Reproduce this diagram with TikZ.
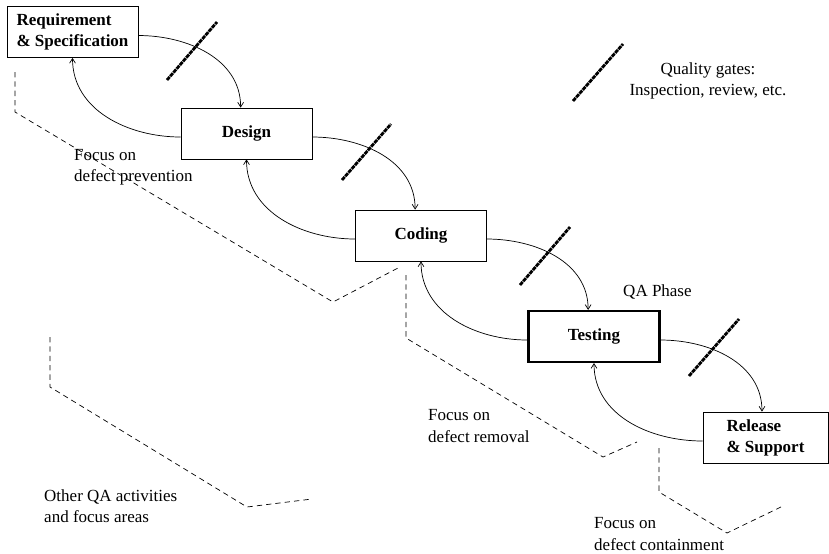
\documentclass[tikz,border=0pt]{standalone}
\usepackage{fontspec}
\setmainfont{Liberation Serif}
\usetikzlibrary{arrows.meta, positioning}

\tikzset{
  phase/.style={draw, line width=0.6pt, minimum width=3.93cm, minimum height=1.53cm, align=left, font=\fontsize{14.5}{18}\selectfont\bfseries},
  note/.style={inner sep=0pt, align=left, font=\fontsize{14.5}{18}\selectfont},
  flow/.style={-{Straight Barb[length=4pt, width=5pt]}, line width=0.6pt},
  gate/.style={line width=2.4pt, dash pattern=on 3.5pt off 0.7pt},
  area/.style={line width=0.6pt, dash pattern=on 4.5pt off 3.5pt},
}

\begin{document}
\begin{tikzpicture}[x=0.03cm, y=-0.03cm]

            \useasboundingbox (0,0) rectangle (829,554);

            % Phases
            \node[phase] (req) at (72.5,32) {Requirement\\\& Specification};
            \node[phase] (design) at (246.5,133.5) {Design};
            \node[phase] (coding) at (421,235.5) {Coding};
            \node[phase, line width=1.8pt] (testing) at (594,336.5) {Testing};
            \node[phase, minimum width=3.75cm] (release) at (765.5,437.5) {Release\\\& Support};

            % Forward arrows
            \draw[flow] ([yshift=-3pt]req.east) to[out=0, in=90] ([xshift=-5pt]design.north);
            \draw[flow] ([yshift=-3pt]design.east) to[out=0, in=90] ([xshift=-5pt]coding.north);
            \draw[flow] ([yshift=-3pt]coding.east) to[out=0, in=90] ([xshift=-5pt]testing.north);
            \draw[flow] ([yshift=-3pt]testing.east) to[out=0, in=90] ([xshift=-3pt]release.north);

            % Backward arrows
            \draw[flow] ([yshift=-3pt]design.west) to[out=180, in=-90] (req.south);
            \draw[flow] ([yshift=-3pt]coding.west) to[out=180, in=-90] (design.south);
            \draw[flow] ([yshift=-3pt]testing.west) to[out=180, in=-90] (coding.south);
            \draw[flow] ([yshift=-3pt]release.west) to[out=180, in=-90] (testing.south);

            % Quality gates
            \draw[gate] (167,80) -- (217,22);
            \draw[gate] (342,180) -- (391,124);
            \draw[gate] (520,285) -- (570,227);
            \draw[gate] (689,376) -- (739,319);
            \draw[gate] (573,101) -- (623,44); % legend

            % Focus areas
            \draw[area] (15,72) -- (15,112) -- (333,302) -- (398,268);
            \draw[area] (406,275) -- (406,338) -- (603,457) -- (637,442);
            \draw[area] (659,448) -- (659,492) -- (727,533) -- (783,506);
            \draw[area] (50,337) -- (50,387) -- (247,507) -- (312,499);

            % Labels
            \node[note, align=center] (gatetxt) at (708,81) {Quality gates:\\Inspection, review, etc.};
            \node[note, anchor=west] (prevtxt) at (74,167) {Focus on\\defect prevention};
            \node[note, anchor=west] (qatxt) at (623,292) {QA Phase};
            \node[note, anchor=west] (remtxt) at (428,426) {Focus on\\defect removal};
            \node[note, anchor=west] (contxt) at (594,534) {Focus on\\defect containment};
            \node[note, anchor=west] (othtxt) at (44,506) {Other QA activities\\and focus areas};

\end{tikzpicture}
\end{document}
